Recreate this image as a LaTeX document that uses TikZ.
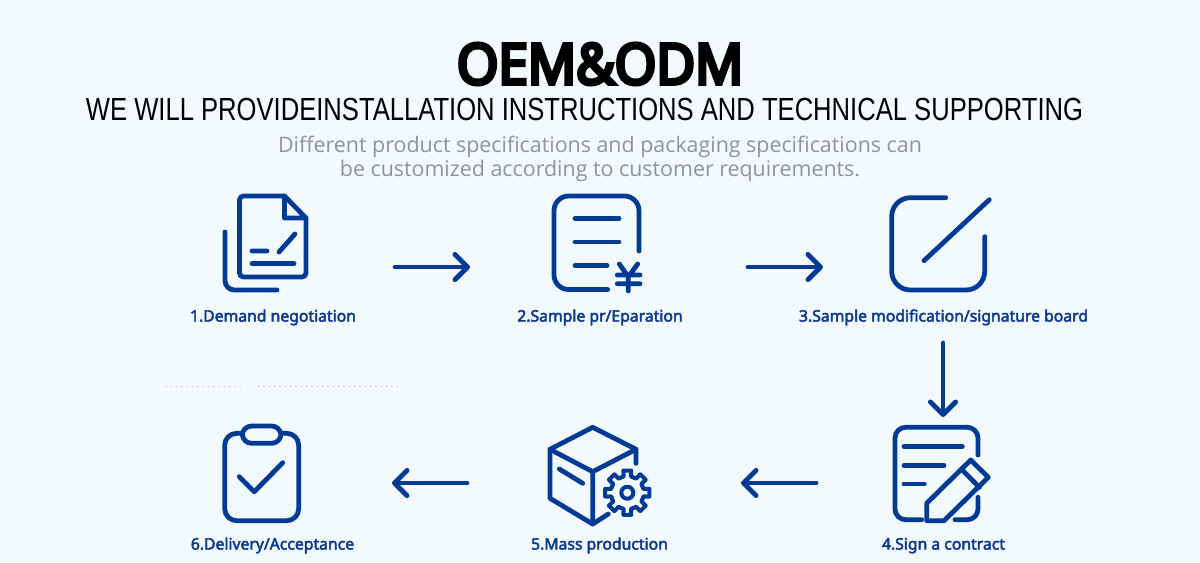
\documentclass[tikz,border=0pt]{standalone}
\usepackage{fontspec}
\usetikzlibrary{arrows.meta}
\setmainfont{Noto Sans}
\newfontfamily\headfont[FakeBold=7, FakeStretch=0.95]{Open Sans}
\newfontfamily\captionfont[FakeBold=3]{Noto Sans}
\newfontfamily\bannerfont[FakeStretch=0.8]{Liberation Sans}
\newfontfamily\introfont{Open Sans}
\definecolor{pagetint}{HTML}{F2FAFD}
\definecolor{iconblue}{HTML}{033A94}
\definecolor{captionblue}{HTML}{0E3A8F}
\definecolor{introgray}{HTML}{8E93A0}

\begin{document}
\begin{tikzpicture}[
    x=0.75pt, y=-0.75pt,
    icon/.style={draw=iconblue, line width=3.6pt, line cap=round, line join=round},
    arrow/.style={icon, -{Straight Barb[round, length=9.5pt, width=19pt]}},
    slot/.style n args={2}{inner sep=0pt, outer sep=0pt, minimum width=#1*0.75pt, minimum height=#2*0.75pt},
    caption/.style={anchor=base, text=captionblue, font=\fontsize{11.8}{15}\selectfont\captionfont},
    intro/.style={anchor=base, text=introgray, font=\fontsize{16.05}{20}\selectfont\introfont}
]
\fill[pagetint] (0,0) rectangle (1200,562);
\useasboundingbox (0,0) rectangle (1200,562);

\node[anchor=base, font=\fontsize{42}{46}\selectfont\headfont] (title) at (600,84) {OEM\&ODM};
\node[anchor=base, font=\fontsize{24}{28}\selectfont\bannerfont] (banner) at (584.5,120) {WE WILL PROVIDEINSTALLATION INSTRUCTIONS AND TECHNICAL SUPPORTING};
\node[intro] (introa) at (600,152) {Different product specifications and packaging specifications can};
\node[intro] (introb) at (600,176) {be customized according to customer requirements.};

\node[slot={256}{152}] (demand) at (267,267) {};
\node[slot={278}{152}] (sample) at (609,267) {};
\node[slot={240}{152}] (modify) at (943,267) {};
\node[slot={254}{132}] (contract) at (943,483) {};
\node[slot={274}{132}] (mass) at (604,483) {};
\node[slot={240}{132}] (delivery) at (272,483) {};

\node[caption] (demandtext) at (273,321.5) {1.Demand negotiation};
\node[caption] (sampletext) at (600,321.5) {2.Sample pr/Eparation};
\node[caption] (modifytext) at (943.5,321.5) {3.Sample modification/signature board};
\node[caption] (contracttext) at (943.5,549.5) {4.Sign a contract};
\node[caption] (masstext) at (599.5,549.5) {5.Mass production};
\node[caption] (deliverytext) at (272.5,549.5) {6.Delivery/Acceptance};

\draw[arrow] (demand) -- (sample);
\draw[arrow] (sample) -- (modify);
\draw[arrow] (modify) -- (contract);
\draw[arrow] (contract) -- (mass);
\draw[arrow] (mass) -- (delivery);

% document
\draw[icon, rounded corners=3pt] (284.5,196) -- (239.5,196) -- (239.5,277) -- (306,277) -- (306,218);
\draw[icon] (284.5,196) -- (306,218) -- (284.5,218) -- cycle;
\draw[icon, rounded corners=7pt] (225,232) -- (225,290) -- (277,290);
\draw[icon] (252,251) -- (267,251) (279,252) -- (295,234) (252,263.5) -- (294,263.5);

% quotation
\draw[icon, rounded corners=11pt] (639,251) -- (639,196) -- (554,196) -- (554,289.5) -- (607.7,289.5);
\draw[icon] (575,218.3) -- (619,218.3) (575,242) -- (619,242) (575,265.7) -- (607,265.7);
\draw[icon] (619.3,264) -- (628.3,276.7) -- (637.7,264) (617.3,275) -- (640,275) (617.3,283.7) -- (640,283.7) (628.3,276.7) -- (628.3,291);

% edit square
\draw[icon, rounded corners=14pt] (945.7,197.7) -- (891.7,197.7) -- (891.7,290) -- (984.7,290) -- (984.7,236.7);
\draw[icon] (924,260.7) -- (989.3,199.7);

% contract sheet
\draw[icon, rounded corners=8pt] (978,455) -- (978,427.3) -- (895,427.3) -- (895,519.7) -- (921.7,519.7);
\draw[icon, rounded corners=8pt] (978,497.3) -- (978,519.7) -- (955,519.7);
\draw[icon] (904,446.7) -- (962.3,446.7) (904,465.3) -- (944,465.3) (904,484) -- (924.3,484);
\draw[icon] (926.7,520.7) -- (926.7,503.3) -- (970.7,460) -- (988.3,477.3) -- (944,520.7) -- cycle;
\draw[icon] (961.7,469.3) -- (979.3,487.3);

% box and gear
\draw[icon] (636,463.3) -- (636,449.3) -- (592.7,427.3) -- (550,449.3) -- (550,498.3) -- (592.7,524) -- (608.3,514);
\draw[icon] (550,449.3) -- (592.7,471.7) -- (636,449.3) (592.7,471.7) -- (592.7,524) (559.3,469) -- (582.7,483.3);
\begin{scope}[shift={(627.3,492.7)}]
\foreach \a in {0,45,...,315}
    \draw[icon, line width=3pt] (\a-22.5:16.5) -- (\a-13:16.5) -- (\a-10:22.5) -- (\a+10:22.5) -- (\a+13:16.5) -- (\a+22.5:16.5);
\draw[icon, line width=3pt] (0,0) circle (6);
\end{scope}

% clipboard
\draw[icon, rounded corners=9pt] (242.3,433.3) -- (224.7,433.3) -- (224.7,520.7) -- (298.7,520.7) -- (298.7,433.3) -- (281,433.3);
\draw[icon, rounded corners=7pt] (242.3,426) rectangle (281,443.3);
\draw[icon] (239.3,476.7) -- (254.3,491.7) -- (282.7,462.7);

% scan residue
\draw[introgray!45, line width=0.6pt, dash pattern=on 1.5pt off 2.5pt] (165,386) -- (240,386) (258,386) -- (398,386);
\end{tikzpicture}
\end{document}
